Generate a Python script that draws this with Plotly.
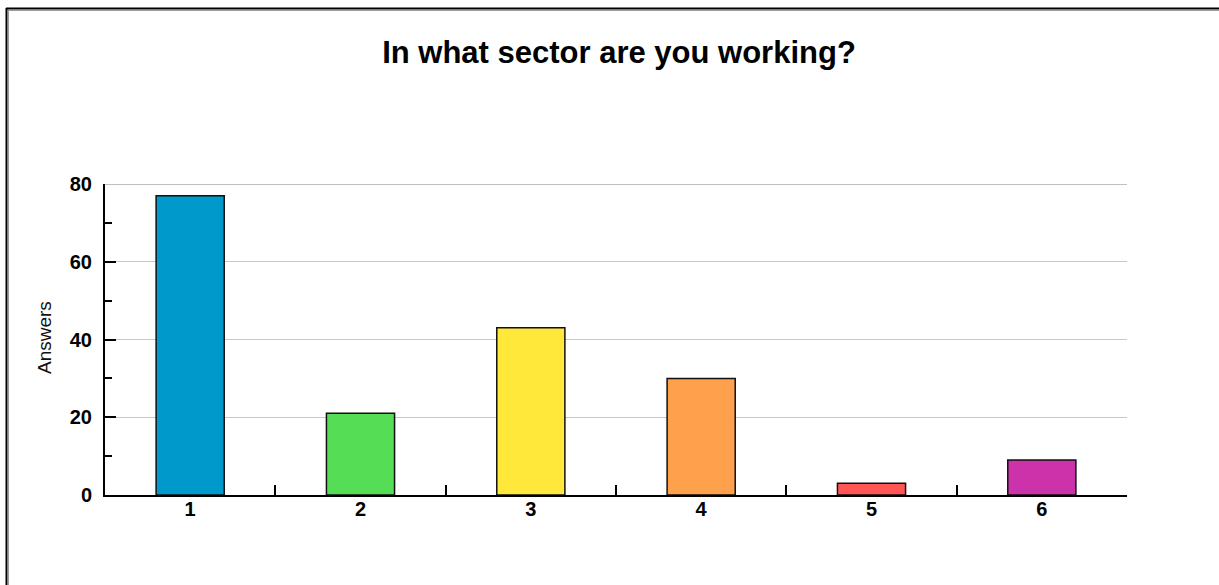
import plotly.graph_objects as go

# Survey answers per sector
sectors = ["1", "2", "3", "4", "5", "6"]
answers = [77, 21, 43, 30, 3, 9]
bar_colors = ["#0099CC", "#55DD55", "#FFE83A", "#FFA04C", "#FF5555", "#CC33AA"]
y_ticks = [0, 20, 40, 60, 80]
y_minor_ticks = [10, 30, 50, 70]

W, H = 1219, 585
L, R, T, B = 105, 92, 184, 90
plot_w = W - L - R
plot_h = H - T - B


def px_x(p):
    return (p - L) / plot_w


def px_y(p):
    return (H - B - p) / plot_h


fig = go.Figure(
    go.Bar(
        x=sectors,
        y=answers,
        width=0.4,
        marker=dict(color=bar_colors, line=dict(color="#111111", width=1.5)),
    )
)

base_font = "Liberation Sans, Arial, sans-serif"
tick_font = dict(family=base_font, size=20, color="#000000", weight="bold")

fig.update_layout(
    width=W,
    height=H,
    margin=dict(l=L, r=R, t=T, b=B),
    paper_bgcolor="#ffffff",
    plot_bgcolor="#ffffff",
    showlegend=False,
    title=dict(
        text="<b>In what sector are you working?</b>",
        x=px_x(619),
        xref="paper",
        xanchor="center",
        y=1 - 52 / H,
        yanchor="middle",
        font=dict(family=base_font, size=31, color="#000000"),
    ),
)

fig.update_xaxes(
    type="category",
    range=[-0.5, 5.5],
    showline=True,
    linecolor="#000000",
    linewidth=2,
    ticks="inside",
    tickson="boundaries",
    ticklen=10,
    tickwidth=1.5,
    tickcolor="#000000",
    showgrid=False,
    tickfont=tick_font,
    ticklabelstandoff=-5,
)

fig.update_yaxes(
    range=[0, 80],
    tickvals=y_ticks,
    showline=True,
    linecolor="#000000",
    linewidth=2,
    ticks="inside",
    ticklen=11,
    tickwidth=1.5,
    tickcolor="#000000",
    showgrid=True,
    gridcolor="#c8c8c8",
    gridwidth=1,
    zeroline=False,
    tickfont=tick_font,
    ticklabelstandoff=7,
    minor=dict(
        tickvals=y_minor_ticks,
        ticks="inside",
        ticklen=7,
        tickwidth=1.5,
        tickcolor="#000000",
        showgrid=False,
    ),
)

# gridline at the top of the value range (half of it falls outside the clip)
fig.add_shape(
    type="line",
    xref="paper",
    yref="y",
    x0=0,
    x1=1,
    y0=y_ticks[-1],
    y1=y_ticks[-1],
    line=dict(color="#c0c0c0", width=2),
    layer="below",
)

# y-axis caption
fig.add_annotation(
    text="Answers",
    textangle=-90,
    x=px_x(44),
    y=px_y(338),
    xref="paper",
    yref="paper",
    xanchor="center",
    yanchor="middle",
    showarrow=False,
    font=dict(family=base_font, size=19, color="#111111"),
)

# outer frame: dark edge with a grey inner line on top and left
frame = [
    dict(x0=px_x(6.5), x1=px_x(6.5), y0=px_y(8), y1=px_y(600), color="#000000", width=2),
    dict(x0=px_x(8.5), x1=px_x(8.5), y0=px_y(9.5), y1=px_y(600), color="#9a9a9a", width=1),
    dict(x0=px_x(6), x1=px_x(1230), y0=px_y(8.5), y1=px_y(8.5), color="#000000", width=2),
    dict(x0=px_x(8), x1=px_x(1230), y0=px_y(10.5), y1=px_y(10.5), color="#9a9a9a", width=1),
]
for f in frame:
    fig.add_shape(
        type="line",
        xref="paper",
        yref="paper",
        x0=f["x0"],
        x1=f["x1"],
        y0=f["y0"],
        y1=f["y1"],
        line=dict(color=f["color"], width=f["width"]),
        layer="above",
    )

fig.write_html("out.html")
